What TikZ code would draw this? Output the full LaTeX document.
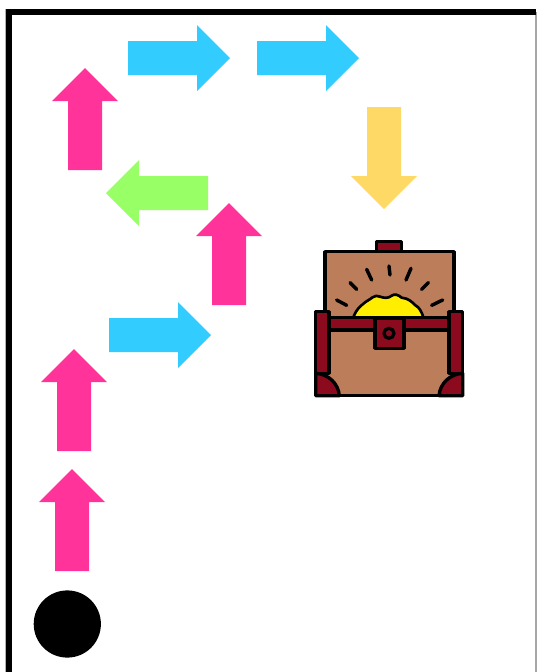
\documentclass[tikz,border=0pt]{standalone}
\definecolor{bluea}{HTML}{33CCFF}
\definecolor{pinka}{HTML}{FF3399}
\definecolor{greena}{HTML}{99FF66}
\definecolor{yellowa}{HTML}{FFD966}
\definecolor{brownc}{HTML}{BC7D5B}
\definecolor{redc}{HTML}{8B0A1E}
\definecolor{goldc}{HTML}{FFEE00}
\tikzset{
  arrowshape/.pic={\fill[pic actions] (0,0)--(33,33)--(17,33)--(17,102)--(-17,102)--(-17,33)--(-33,33)--cycle;},
  ink/.style={draw=black,line width=2.5pt,line join=round},
  ray/.style={draw=black,line width=2.6pt,line cap=round}
}
\begin{document}
\begin{tikzpicture}[x=0.75pt,y=-0.75pt]
\useasboundingbox (0,0) rectangle (538,672);
% frame
\fill[white] (6,9) rectangle (536,672);
\draw[gray!70,line width=1.1pt] (536,12)--(536,672);
\draw[gray!60,line width=0.8pt] (5.5,9)--(5.5,672);
\draw[black,line width=4.5pt] (9,672)--(9,12)--(536,12);
% arrows
\pic[fill=pinka] at (85,68) {arrowshape};
\pic[fill=bluea,rotate=-90] at (230,58) {arrowshape};
\pic[fill=bluea,rotate=-90] at (359,58) {arrowshape};
\pic[fill=yellowa,rotate=180] at (384,209) {arrowshape};
\pic[fill=greena,rotate=90] at (106,193) {arrowshape};
\pic[fill=pinka] at (229,203) {arrowshape};
\pic[fill=bluea,rotate=-90] at (211,335) {arrowshape};
\pic[fill=pinka] at (74,349) {arrowshape};
\pic[fill=pinka] at (72,469) {arrowshape};
\fill[black] (67.3,624) circle[radius=25.2pt];
% chest
\begin{scope}[shift={(300,230)},x=0.25pt,y=-0.25pt]
\draw[ink,fill=redc] (230,35) rectangle (305,65);
\draw[ink,fill=brownc] (75,65) rectangle (462,265);
\foreach \a/\b/\c/\d in {110/210/140/226,150/158/170/178,200/118/215/150,267/108/270/135,333/115/318/150,385/158/365/178,428/210/395/226}
  \draw[ray] (\a,\b)--(\c,\d);
\draw[black,line width=2pt,fill=goldc,line join=round] (160,262)
  .. controls (170,235) and (185,225) .. (198,215)
  .. controls (210,210) and (225,190) .. (240,200)
  .. controls (255,205) and (265,205) .. (275,197)
  .. controls (285,190) and (295,195) .. (305,203)
  .. controls (325,205) and (335,215) .. (345,225)
  .. controls (358,232) and (365,245) .. (370,262) -- cycle;
\draw[ink,fill=brownc] (47,263) rectangle (488,497);
\draw[ink,fill=redc] (47,245) rectangle (87,430);
\draw[ink,fill=redc] (447,245) rectangle (488,430);
\draw[ink,fill=redc] (87,263) rectangle (447,300);
\draw[ink,fill=redc] (225,265) rectangle (312,355);
\draw[black,line width=2.4pt,fill=redc] (267,310) circle[radius=15];
\draw[ink,fill=redc] (47,430) .. controls (85,432) and (115,460) .. (118,497) -- (47,497) -- cycle;
\draw[ink,fill=redc] (488,430) .. controls (450,432) and (420,460) .. (417,497) -- (488,497) -- cycle;
\end{scope}
\end{tikzpicture}
\end{document}
